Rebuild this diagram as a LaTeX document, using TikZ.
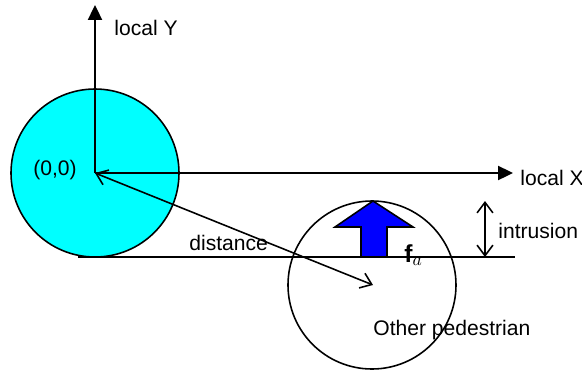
\documentclass[tikz,border=0pt]{standalone}
\usepackage{fontspec}
\setmainfont{Liberation Sans}
\usetikzlibrary{arrows.meta}
\definecolor{pedcyan}{RGB}{0,255,255}
\definecolor{forceblue}{RGB}{0,0,255}

\begin{document}
\begin{tikzpicture}[x=0.02cm,y=-0.02cm,
  axis/.style={line width=1.1pt,-{Triangle[length=8.5pt,width=8pt]}},
  measure/.style={line width=0.9pt,{Straight Barb[length=6pt,width=9pt]}-{Straight Barb[length=6pt,width=9pt]}},
  ped/.style={line width=0.9pt},
  lbl/.style={inner sep=0pt,anchor=base west,font=\fontsize{12}{14}\selectfont}]
\useasboundingbox (0,0) rectangle (582,373);
\coordinate (o) at (95,173);
\coordinate (p) at (373,285);
\coordinate (ytip) at (95,5);
\coordinate (xtip) at (513,173);
\coordinate (lineL) at (78,257);
\coordinate (lineR) at (515,257);
\coordinate (inTop) at (485,201);
\coordinate (inBot) at (485,257);
\draw[ped,fill=pedcyan] (o) circle (84);
\draw[ped] (372,285) circle (84);
\draw[line width=0.9pt] (lineL) -- (lineR);
\draw[axis] (o) -- (ytip);
\draw[axis] (o) -- (xtip);
\draw[measure] (o) -- (p);
\draw[measure] (inTop) -- (inBot);
\draw[fill=forceblue,line width=0.9pt] (361,257) -- (361,227) -- (335,227) -- (373,201)
  -- (413,227) -- (387,227) -- (387,257) -- cycle;
\node[lbl] (ly) at (114,35) {local Y};
\node[lbl] (lx) at (520,185) {local X};
\node[lbl] (orig) at (33,175) {(0,0)};
\node[lbl] (dist) at (189,250) {distance};
\node[lbl] (intr) at (498,238) {intrusion};
\node[lbl] (other) at (373,335) {Other pedestrian};
\node[inner sep=0pt,anchor=base west,font=\fontsize{14}{16}\selectfont] (fa) at (404,262) {$\mathbf{f}_a$};
\end{tikzpicture}
\end{document}
